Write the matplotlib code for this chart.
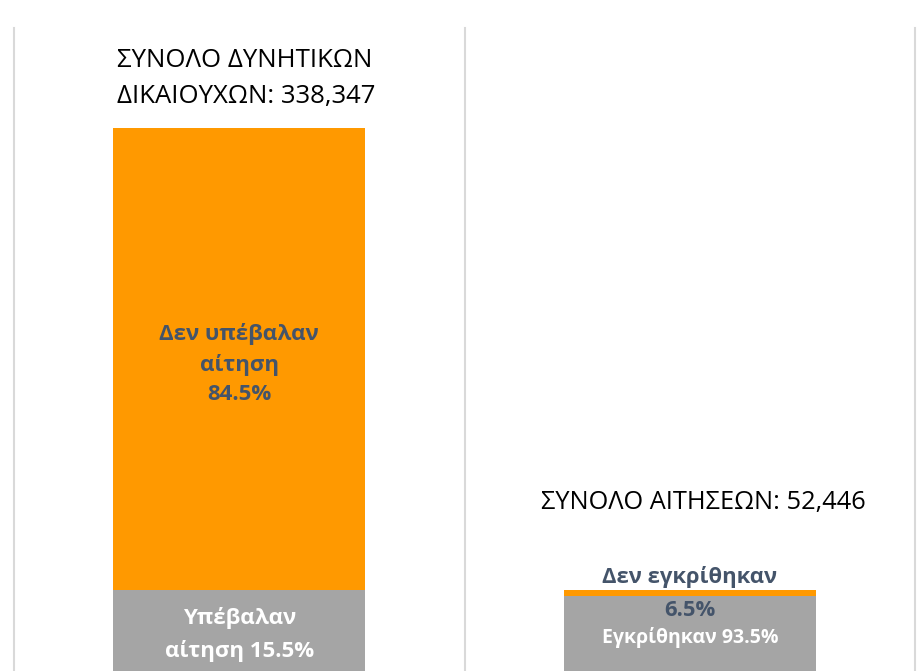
import matplotlib
matplotlib.use('Agg')
import matplotlib.pyplot as plt

plt.rcParams['font.family'] = ['Open Sans', 'DejaVu Sans']

# Δεδομένα
categories = ['Δυνητικοί δικαιούχοι', 'Αιτήσεις']
bottom_values = [52446, 49037]   # υπέβαλαν / εγκρίθηκαν
top_values = [285901, 3409]      # δεν υπέβαλαν / δεν εγκρίθηκαν
totals = [338347, 52446]
bottom_pct = [15.5, 93.5]
top_pct = [84.5, 6.5]

orange = '#FF9900'
gray = '#A5A5A5'
slate = '#44546A'

fig = plt.figure(figsize=(9.23, 6.71), dpi=100)
ax = fig.add_axes([14 / 923, -4 / 671, 901 / 923, 647 / 671])

x = list(range(len(categories)))
ax.bar(x, bottom_values, width=0.56, color=gray, zorder=2)
ax.bar(x, top_values, width=0.56, bottom=bottom_values, color=orange, zorder=2)

ax.set_xlim(-0.5, 1.5)
ax.set_ylim(0, 400000)
for xv in [-0.5, 0.5, 1.5]:
    ax.axvline(xv, color='#D9D9D9', lw=1.5, zorder=1, clip_on=False)
for s in ax.spines.values():
    s.set_visible(False)
ax.set_xticks([])
ax.set_yticks([])

# Σύνολα
ax.text(-0.272, totals[0] + 11800,
        f'ΣΥΝΟΛΟ ΔΥΝΗΤΙΚΩΝ\nΔΙΚΑΙΟΥΧΩΝ: {totals[0]:,}',
        ha='left', va='bottom', fontsize=18.5, color='black', linespacing=1.58)
ax.text(1.03, totals[1] + 54500, f'ΣΥΝΟΛΟ ΑΙΤΗΣΕΩΝ: {totals[1]:,}',
        ha='center', va='center', fontsize=18.3, color='black')

# Ετικέτες αριστερής στήλης
ax.text(0, bottom_values[0] + top_values[0] / 2 - 3000,
        f'Δεν υπέβαλαν\nαίτηση\n{top_pct[0]}%',
        ha='center', va='center', fontsize=16, fontweight='bold', color=slate,
        linespacing=1.52, zorder=3)
ax.text(0, bottom_values[0] / 2 - 1200,
        f'Υπέβαλαν\nαίτηση {bottom_pct[0]}%',
        ha='center', va='center', fontsize=16, fontweight='bold', color='white',
        linespacing=1.68, zorder=3)

# Ετικέτες δεξιάς στήλης
ax.text(1, totals[1] + 8000, 'Δεν εγκρίθηκαν',
        ha='center', va='center', fontsize=15.8, fontweight='bold', color=slate, zorder=3)
ax.text(1, totals[1] - 12800, f'{top_pct[1]}%',
        ha='center', va='center', fontsize=15.8, fontweight='bold', color=slate, zorder=3)
ax.text(1, totals[1] - 29500, f'Εγκρίθηκαν {bottom_pct[1]}%',
        ha='center', va='center', fontsize=14, fontweight='bold', color='white', zorder=3)

fig.savefig('out.png', dpi=100)
plt.close(fig)
